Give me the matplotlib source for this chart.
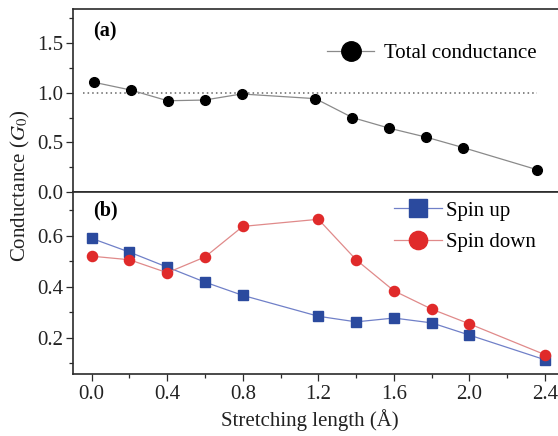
import matplotlib
matplotlib.use("Agg")
import matplotlib.pyplot as plt
from matplotlib.ticker import MultipleLocator

plt.rcParams['font.family'] = ['Liberation Serif', 'DejaVu Serif']
plt.rcParams['mathtext.fontset'] = 'stix'

# ---- data ----
stretch = [0.0, 0.2, 0.4, 0.6, 0.8, 1.2, 1.4, 1.6, 1.8, 2.0, 2.4]
total_conductance = [1.105, 1.027, 0.919, 0.926, 0.987, 0.94, 0.75, 0.643, 0.553, 0.448, 0.226]
spin_up = [0.59, 0.536, 0.477, 0.418, 0.366, 0.284, 0.262, 0.277, 0.258, 0.21, 0.113]
spin_down = [0.52, 0.506, 0.455, 0.517, 0.637, 0.665, 0.506, 0.384, 0.312, 0.254, 0.133]
ref_level = 1.0
top_yticks = [0.0, 0.5, 1.0, 1.5]
bot_yticks = [0.2, 0.4, 0.6]
xticks = [0.0, 0.4, 0.8, 1.2, 1.6, 2.0, 2.4]

W, H = 558, 436
fig = plt.figure(figsize=(W / 100, H / 100), dpi=100)

def fx(px):
    return px / W

def fy(py):
    return 1 - py / H

left_px, right_px = 73.3, 566
top_px, mid_px, bot_px = 9.5, 192.3, 374.3

ax1 = fig.add_axes([fx(left_px), fy(mid_px), fx(right_px) - fx(left_px), fy(top_px) - fy(mid_px)])
ax2 = fig.add_axes([fx(left_px), fy(bot_px), fx(right_px) - fx(left_px), fy(mid_px) - fy(bot_px)])

spine_col = '#2a2a2a'
for ax in (ax1, ax2):
    for s in ax.spines.values():
        s.set_color(spine_col)
        s.set_linewidth(1.2)
    ax.spines['right'].set_visible(False)
    ax.tick_params(axis='both', which='both', direction='out', colors=spine_col,
                   labelcolor='#222222', labelsize=15, width=0.9)
    ax.tick_params(which='major', length=5, pad=2.5)
    ax.tick_params(which='minor', length=3)

# ---- top panel ----
ax1.plot(stretch, total_conductance, color='#8a8a8a', lw=0.9, marker='o', ms=7,
         mfc='black', mec='black', label='Total conductance', zorder=3)
ax1.plot([-0.06, 2.4], [ref_level, ref_level], color='#666666', lw=1.1,
         ls=(0, (1, 2.0)), zorder=2)
ax1.set_xlim(-0.11, 2.555)
ax1.set_ylim(0.0, 1.835)
ax1.set_yticks(top_yticks)
ax1.yaxis.set_minor_locator(MultipleLocator(0.25))
ax1.set_xticks([])
ax1.tick_params(axis='x', which='both', bottom=False, labelbottom=False)
ax1.text(0.04, 0.88, '(a)', transform=ax1.transAxes, fontsize=14.5,
         fontweight='bold', va='center', ha='left')
leg1 = ax1.legend(loc='center left', bbox_to_anchor=(fx(327), fy(53.3)),
                  bbox_transform=fig.transFigure, frameon=False, fontsize=15,
                  markerscale=2.0, handlelength=2.26, handletextpad=0.5,
                  borderpad=0, borderaxespad=0)

# ---- bottom panel ----
ax2.plot(stretch, spin_up, color='#7080c8', lw=0.9, marker='s', ms=7,
         mfc='#2b4a9e', mec='#2b4a9e', label='Spin up', zorder=3)
ax2.plot(stretch, spin_down, color='#e08a8a', lw=0.9, marker='o', ms=7.3,
         mfc='#e02a2a', mec='#e02a2a', label='Spin down', zorder=4)
ax2.set_xlim(-0.0974, 2.511)
ax2.set_ylim(0.056, 0.771)
ax2.set_yticks(bot_yticks)
ax2.yaxis.set_minor_locator(MultipleLocator(0.1))
ax2.set_xticks(xticks)
ax2.set_xticklabels([f'{v:.1f}' for v in xticks])
ax2.xaxis.set_minor_locator(MultipleLocator(0.2))
ax2.text(0.04, 0.9, '(b)', transform=ax2.transAxes, fontsize=14.5,
         fontweight='bold', va='center', ha='left')
leg2 = ax2.legend(loc='center left', bbox_to_anchor=(fx(394), fy(226.5)),
                  bbox_transform=fig.transFigure, frameon=False, fontsize=15,
                  markerscale=1.8, handlelength=2.3, handletextpad=0.2,
                  labelspacing=0.55, borderpad=0, borderaxespad=0)

# ---- axis labels ----
fig.text(fx(20), fy(186), r'Conductance ($G_0$)', rotation=90, ha='center',
         va='center', fontsize=15, color='#222222')
fig.text(fx(310), fy(420), 'Stretching length (Å)', ha='center', va='center',
         fontsize=15, color='#222222')

fig.savefig('out.png', dpi=100)
